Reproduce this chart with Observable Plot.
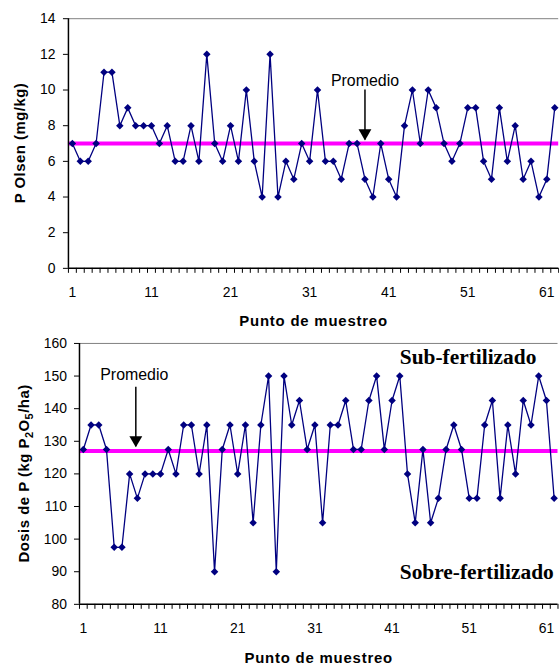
<!DOCTYPE html>
<html><head><meta charset="utf-8">
<script src="https://cdn.jsdelivr.net/npm/d3@7"></script>
<script src="https://cdn.jsdelivr.net/npm/@observablehq/plot@0.6"></script>
<style>
html,body{margin:0;padding:0;overflow:hidden;background:#fff;}
#chart svg{display:block;}
</style></head><body><div id="chart"></div>
<script>
// ---- data ----
const samplePoints = Array.from({length: 62}, (_, i) => i + 1);
const pOlsen = [7,6,6,7,11,11,8,9,8,8,8,7,8,6,6,8,6,12,7,6,8,6,10,6,4,12,4,6,5,7,6,10,6,6,5,7,7,5,4,7,5,4,8,10,7,10,9,7,6,7,9,9,6,5,9,6,8,5,6,4,5,9];
const dosisP = [127.5,135,135,127.5,97.5,97.5,120,112.5,120,120,120,127.5,120,135,135,120,135,90,127.5,135,120,135,105,135,150,90,150,135,142.5,127.5,135,105,135,135,142.5,127.5,127.5,142.5,150,127.5,142.5,150,120,105,127.5,105,112.5,127.5,135,127.5,112.5,112.5,135,142.5,112.5,135,120,142.5,135,150,142.5,112.5];
const pOlsenMean = 7;
const dosisMean = 127;
const xTickLabels = [1, 11, 21, 31, 41, 51, 61];
const topYTicks = [0, 2, 4, 6, 8, 10, 12, 14];
const bottomYTicks = [80, 90, 100, 110, 120, 130, 140, 150, 160];
const xTitle = "Punto de muestreo";
const topNote = {x: 38, y: 10.2, y1: 10.0, y2: 7.2, label: "Promedio"};
const bottomNote = {x: 7.6, xa: 7.8, y: 148.7, y1: 146.6, y2: 128.3, label: "Promedio"};
const zoneLabels = [
  {x: 42, y: 153.7, label: "Sub-fertilizado"},
  {x: 42, y: 87.8, label: "Sobre-fertilizado"}
];

const FONT = "'Liberation Sans', Arial, sans-serif";

function arrowMarks(n) {
  const xa = n.xa ?? n.x;
  return [
    Plot.text([n], {x: "x", y: "y", text: "label", fontSize: 16, lineAnchor: "bottom"}),
    Plot.ruleX([n], {x: () => xa, y1: "y1", y2: "y2", stroke: "#000", strokeWidth: 1.5}),
    Plot.dot([n], {x: () => xa, y: "y2", symbol: "triangle", rotate: 180, r: 4.8, fill: "#000", stroke: "none", dy: -7})
  ];
}

function panel(o) {
  const data = samplePoints.map((p, i) => ({p, v: o.values[i]}));
  const boundaries = d3.range(0.5, samplePoints.length + 1, 1);
  return Plot.plot({
    width: 562, height: o.height,
    marginTop: o.mt, marginBottom: o.mb, marginLeft: o.ml, marginRight: o.mr,
    style: {fontFamily: FONT, fontSize: "14px", color: "#000", background: "#fff", overflow: "visible"},
    x: {domain: [0.5, samplePoints.length + 0.5]},
    y: {domain: o.yDomain},
    marks: [
      Plot.ruleY([o.yDomain[1]], {stroke: "#808080", strokeWidth: 1}),
      Plot.ruleY([o.mean], {stroke: "#ff00ff", strokeWidth: 4}),
      Plot.line(data, {x: "p", y: "v", stroke: "#000080", strokeWidth: 1.3}),
      Plot.dot(data, {x: "p", y: "v", symbol: "diamond2", r: 3.4, fill: "#000080", stroke: "none"}),
      Plot.axisY({ticks: o.yTicks, tickSize: 5, tickPadding: o.yPad, label: null, fontSize: 14}),
      Plot.axisX({ticks: boundaries, tickSize: 5, tickFormat: () => "", label: null}),
      Plot.axisX({ticks: xTickLabels, tickSize: 0, tickPadding: 19, label: null, fontSize: 14}),
      Plot.ruleX([0.5], {stroke: "#000", strokeWidth: 1.5}),
      Plot.ruleY([o.yDomain[0]], {stroke: "#000", strokeWidth: 1.5}),
      Plot.text([xTitle], {text: d => d, frameAnchor: "bottom", dy: o.titleDy, lineAnchor: "bottom", fontWeight: "bold", fontSize: 15}),
      ...o.extra
    ]
  });
}

const topChart = panel({
  values: pOlsen, mean: pOlsenMean, yDomain: [0, 14], yTicks: topYTicks,
  height: 336, mt: 18.3, mb: 66.7, ml: 68.3, mr: 0.8, yPad: 8, titleDy: 58.4,
  extra: arrowMarks(topNote)
});
const bottomChart = panel({
  values: dosisP, mean: dosisMean, yDomain: [80, 160], yTicks: bottomYTicks,
  height: 335, mt: 9, mb: 63.7, ml: 79.4, mr: 1.5, yPad: 7.6, titleDy: 59,
  extra: [
    ...arrowMarks(bottomNote),
    Plot.text(zoneLabels, {x: "x", y: "y", text: "label", textAnchor: "start", lineAnchor: "bottom",
      fontFamily: "'Liberation Serif', 'Times New Roman', serif", fontWeight: "bold", fontSize: 21.5})
  ]
});

const chart = document.getElementById("chart");
chart.append(topChart, bottomChart);

// letter spacing for the wide-rendered x titles
d3.selectAll("#chart svg text").filter(function() { return this.textContent === xTitle; })
  .attr("letter-spacing", "0.8px");

// y-axis titles
d3.select(topChart).append("text")
  .attr("transform", "translate(25,143.8) rotate(-90)")
  .attr("text-anchor", "middle").attr("font-weight", "bold").attr("font-size", 15)
  .attr("fill", "#000").attr("letter-spacing", "0.5px")
  .text("P Olsen (mg/kg)");

const t = d3.select(bottomChart).append("text")
  .attr("transform", "translate(29,140.2) rotate(-90)")
  .attr("text-anchor", "middle").attr("font-weight", "bold").attr("font-size", 15)
  .attr("fill", "#000").attr("letter-spacing", "0.5px");
t.append("tspan").text("Dosis de P (kg P");
t.append("tspan").attr("dy", 4).attr("font-size", 11).text("2");
t.append("tspan").attr("dy", -4).text("O");
t.append("tspan").attr("dy", 4).attr("font-size", 11).text("5");
t.append("tspan").attr("dy", -4).text("/ha)");
</script>
</body></html>
